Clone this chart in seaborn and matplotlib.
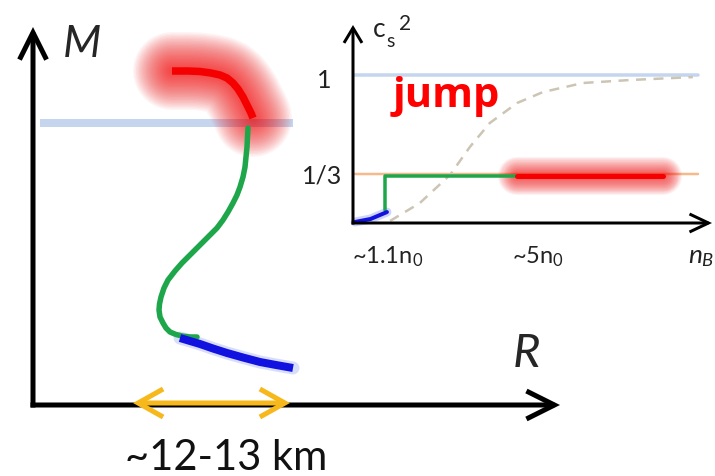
import numpy as np
import matplotlib
matplotlib.use("Agg")
import matplotlib.pyplot as plt
import seaborn as sns

# ---------------- M-R panel (schematic units, origin at axes corner) ----------------
red_R = [139, 155, 167, 178, 187, 194, 200, 205, 210, 214, 218, 220]
red_M = [334, 334, 333.5, 332, 330, 327, 322, 316, 308, 300, 292, 287]
green_R = [215, 214.5, 214, 213, 212, 210, 207, 204, 200, 195, 190, 184, 177, 171, 164,
           157, 149, 142, 135, 131, 128, 126.5, 126, 127, 130, 133, 137, 143, 149, 157, 164]
green_M = [277, 268, 258, 248, 238, 228, 218, 210, 202, 193, 185, 177, 170, 164, 157,
           150, 142, 134, 125, 117, 108, 101, 95, 88, 82, 77, 73, 70.5, 69, 68, 68]
blue_R = [147, 157, 167, 180, 194, 210, 227, 243, 260]
blue_M = [67, 64, 61, 56.5, 52, 47.5, 43, 40, 37]
mr_hline_M = 282
mr_hline_R = [7, 260]
radius_range_R = [100, 257]
radius_label = "~12-13 km"

# ---------------- c_s^2 vs n_B panel ----------------
n_blue = [0.06, 0.50, 0.97]
cs_blue = [0.007, 0.027, 0.074]
n_green = [0.91, 0.91, 4.69]
cs_green = [0.09, 0.32, 0.32]
n_red = [4.69, 8.86]
cs_red = [0.32, 0.32]
n_dash = [1.06, 1.91, 2.77, 3.34, 3.91, 4.69, 5.43, 6.57, 7.91, 9.71]
cs_dash = [0.014, 0.135, 0.324, 0.514, 0.676, 0.811, 0.885, 0.946, 0.966, 0.986]
cs_levels = [1.0, 1 / 3]
cs_level_labels = ["1", "1/3"]
n_level_extent = [0.06, 9.85]
n_tick_labels = ["~1.1$\\mathregular{n_0}$", "~5$\\mathregular{n_0}$"]
n_tick_pos = [-0.03, 4.54]

RED = "#f40000"
GREEN = "#1ea64b"
BLUE = "#1212e0"
LBLUE = "#c5d5ee"
ORANGE = "#f6b98c"
YELLOW = "#f6b81a"
DASH = "#cdc5b4"

sns.set_theme(style="white")
plt.rcParams["font.family"] = ["Lato", "DejaVu Sans"]
plt.rcParams["mathtext.fontset"] = "custom"
plt.rcParams["mathtext.rm"] = "Lato"
plt.rcParams["mathtext.it"] = "Lato:italic"

PX = 0.72  # points per pixel at dpi=100

fig = plt.figure(figsize=(7.15, 4.76), dpi=100)
fig.patch.set_facecolor("white")

# main axes: 1 unit = 1 px, origin at the M-R axes corner
ax = fig.add_axes([0, 0, 1, 1])
ax.set_xlim(-33, 682)
ax.set_ylim(-71, 405)
ax.axis("off")


def arrow(a, start, end, lw_px, hl, hw, color="black", style="->"):
    a.annotate("", xy=end, xytext=start,
               arrowprops=dict(arrowstyle=f"{style},head_length={hl},head_width={hw}",
                               lw=lw_px * PX, color=color, mutation_scale=7.2,
                               shrinkA=0, shrinkB=0, capstyle="butt", joinstyle="miter"),
               annotation_clip=False)


# reference horizontal line
ax.plot(mr_hline_R, [mr_hline_M, mr_hline_M], color=LBLUE, lw=8 * PX, solid_capstyle="butt")

# red glow
for w in np.linspace(78, 6, 26):
    ax.plot(red_R, red_M, color=RED, alpha=0.042, lw=w * PX,
            solid_capstyle="round", solid_joinstyle="round")
# blue halo
ax.plot(blue_R, blue_M, color="#aab6f4", alpha=0.45, lw=13 * PX, solid_capstyle="round")

sns.lineplot(x=green_R, y=green_M, sort=False, estimator=None, ax=ax,
             color=GREEN, lw=5.5 * PX, solid_capstyle="round", solid_joinstyle="round")
sns.lineplot(x=blue_R, y=blue_M, sort=False, estimator=None, ax=ax,
             color=BLUE, lw=8 * PX, solid_capstyle="butt", solid_joinstyle="round")
sns.lineplot(x=red_R, y=red_M, sort=False, estimator=None, ax=ax,
             color=RED, lw=7.5 * PX, solid_capstyle="butt", solid_joinstyle="round")

# axes of M-R
arrow(ax, (0, -2.5), (0, 378), 5, 2.7, 1.35)
arrow(ax, (-2.5, 0), (527, 0), 5, 2.8, 1.4)
# radius range arrow
arrow(ax, (radius_range_R[0], 2), (radius_range_R[1], 2), 5, 2.5, 1.4, color=YELLOW, style="<->")

ax.text(30, 348, "M", fontsize=32, style="italic", ha="left", va="baseline")
ax.text(480, 38, "R", fontsize=34, style="italic", ha="left", va="baseline")
ax.text(193, -65, radius_label, fontsize=30, ha="center", va="baseline", color="#111111")

# ---------------- inset ----------------
ax2 = fig.add_axes([353 / 715, (476 - 223) / 476, 359 / 715, 198 / 476])
ax2.set_xlim(0, 359 / 35)
ax2.set_ylim(0, 198 / 148)
ax2.axis("off")
ax2.patch.set_alpha(0)

ax2.plot(n_level_extent, [cs_levels[0]] * 2, color=LBLUE, lw=3.5 * PX, clip_on=False)
ax2.plot(n_level_extent, [cs_levels[1]] * 2, color=ORANGE, lw=2.5 * PX, clip_on=False)

sns.lineplot(x=n_dash, y=cs_dash, ax=ax2, color=DASH, lw=2.5 * PX, dashes=(4, 3),
             estimator=None, clip_on=False)

for w in np.linspace(38, 6, 16):
    ax2.plot(n_red, cs_red, color=RED, alpha=0.055, lw=w * PX,
             solid_capstyle="round", clip_on=False)
ax2.plot(n_blue, cs_blue, color="#a8b4f4", alpha=0.55, lw=9 * PX,
         solid_capstyle="round", clip_on=False)

sns.lineplot(x=n_green, y=cs_green, sort=False, estimator=None, ax=ax2,
             color=GREEN, lw=3.5 * PX, clip_on=False)
sns.lineplot(x=n_red, y=cs_red, ax=ax2, color=RED, lw=5 * PX, estimator=None, clip_on=False)
sns.lineplot(x=n_blue, y=cs_blue, ax=ax2, color=BLUE, lw=4 * PX, estimator=None,
             clip_on=False)

arrow(ax2, (0, -0.01), (0, 198 / 148), 3, 1.5, 0.9)
arrow(ax2, (-0.04, 0), (359 / 35, 0), 3, 1.9, 0.9)

ax2.text(-0.83, 0.912, cs_level_labels[0], fontsize=18, ha="center", va="baseline", color="#222222")
ax2.text(-0.314, 0.27, cs_level_labels[1], fontsize=18, ha="right", va="baseline", color="#222222")
ax2.text(0.57, 1.257, "c", fontsize=19, ha="left", va="baseline", color="#222222")
ax2.text(0.95, 1.189, "s", fontsize=14, ha="left", va="baseline", color="#222222")
ax2.text(1.31, 1.304, "2", fontsize=15, ha="left", va="baseline", color="#222222")
for pos, lab in zip(n_tick_pos, n_tick_labels):
    ax2.text(pos, -0.27, lab, fontsize=17, ha="left", va="baseline", color="#222222")
ax2.text(9.57, -0.27, "$n_B$", fontsize=19, ha="left", va="baseline", color="#222222")

ax2.text(1.143, 0.784, "jump", fontsize=30, fontweight="bold", color="#ff0000",
         family=["Open Sans", "DejaVu Sans"], ha="left", va="baseline")

fig.savefig("out.png", dpi=100)
